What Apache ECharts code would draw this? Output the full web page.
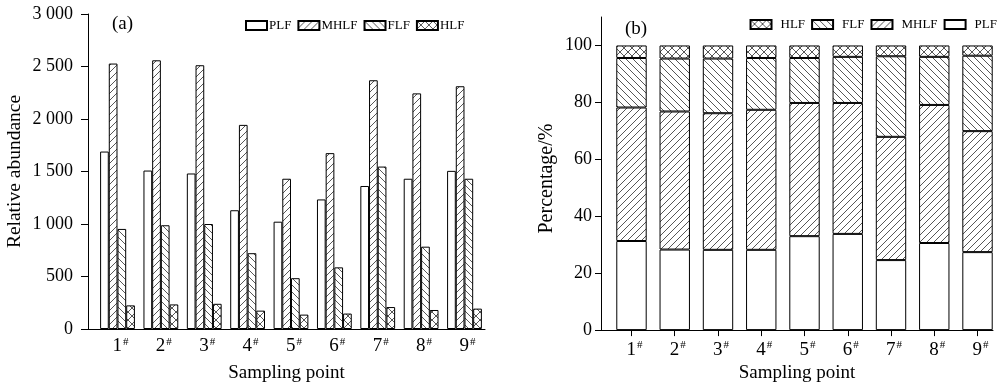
<!DOCTYPE html>
<html><head><meta charset="utf-8">
<script src="https://cdn.jsdelivr.net/npm/echarts@6/dist/echarts.min.js"></script>
<style>html,body{margin:0;padding:0;background:#fff}#c{width:1000px;height:388px}</style>
</head><body><div id="c"></div>
<script>
// ---------- data ----------
const categories = ['1','2','3','4','5','6','7','8','9'];
const seriesNames = ['PLF','MHLF','FLF','HLF'];
// (a) relative abundance
const absPLF  = [1690,1509,1481,1131,1022,1234,1362,1431,1506];
const absMHLF = [2528,2559,2512,1944,1431,1675,2369,2244,2312];
const absFLF  = [953,988,1000,722,484,587,1547,784,1431];
const absHLF  = [225,234,240,175,137,147,209,181,194];
// (b) percentage (segment heights)
const pctPLF  = [31.3,28.3,28.2,28.2,33.0,33.8,24.6,30.6,27.4];
const pctMHLF = [46.9,48.5,48.0,49.2,46.8,46.0,43.3,48.5,42.5];
const pctFLF  = [17.4,18.6,19.2,18.2,15.8,16.2,28.3,16.9,26.5];
const pctHLF  = [4.4,4.6,4.6,4.4,4.4,4.0,3.8,4.0,3.6];
// tick labels
const yTicksA = [0,500,1000,1500,2000,2500,3000];
const yTicksB = [0,20,40,60,80,100];
const legendOrderA = ['PLF','MHLF','FLF','HLF'];
const legendOrderB = ['HLF','FLF','MHLF','PLF'];

// ---------- styles ----------
const FONT = "'Liberation Serif','Times New Roman',serif";
function hatch(kind, p) {
  const c = document.createElement('canvas');
  c.width = p; c.height = p;
  const g = c.getContext('2d');
  g.fillStyle = '#fff'; g.fillRect(0, 0, p, p);
  g.strokeStyle = '#444'; g.lineWidth = 0.9;
  g.beginPath();
  if (kind === '/' || kind === 'x') {
    g.moveTo(0, p); g.lineTo(p, 0);
    g.moveTo(-1, 1); g.lineTo(1, -1);
    g.moveTo(p - 1, p + 1); g.lineTo(p + 1, p - 1);
  }
  if (kind === '\\' || kind === 'x') {
    g.moveTo(0, 0); g.lineTo(p, p);
    g.moveTo(p - 1, -1); g.lineTo(p + 1, 1);
    g.moveTo(-1, p - 1); g.lineTo(1, p + 1);
  }
  g.stroke();
  return { image: c, repeat: 'repeat' };
}
const fills = {
  PLF: '#ffffff',
  MHLF: hatch('/', 7),
  FLF: hatch('\\', 7),
  HLF: hatch('x', 8)
};
const absData = { PLF: absPLF, MHLF: absMHLF, FLF: absFLF, HLF: absHLF };
const pctData = { PLF: pctPLF, MHLF: pctMHLF, FLF: pctFLF, HLF: pctHLF };

const xPos = categories.map((c, i) => i + 1);
function catLabel(v) {
  const idx = Math.round(v) - 1;
  return '{p|}{n|' + categories[idx] + '}{s|#}';
}
const richX = {
  p: { width: 6 },
  n: { fontSize: 19, fontFamily: FONT, color: '#000' },
  s: { fontSize: 11, fontFamily: FONT, color: '#000', verticalAlign: 'top', padding: [0, 0, 6, 1] }
};
function thousands(v) { return String(v).replace(/\B(?=(\d{3})+(?!\d))/g, ' '); }

const series = [];
seriesNames.forEach(n => {
  series.push({
    name: n, type: 'bar', xAxisIndex: 0, yAxisIndex: 0,
    barWidth: 8.7, barGap: '0%',
    itemStyle: { color: fills[n], borderColor: '#000', borderWidth: 1 },
    emphasis: { disabled: true },
    data: absData[n].map((v, i) => [xPos[i], v])
  });
});
seriesNames.forEach(n => {
  series.push({
    name: n, type: 'bar', xAxisIndex: 1, yAxisIndex: 1, stack: 'pct',
    barWidth: 30.4,
    itemStyle: { color: fills[n], borderColor: '#000', borderWidth: 1 },
    emphasis: { disabled: true },
    encode: { x: 1, y: 0 },
    data: pctData[n].map((v, i) => [v, xPos[i]])
  });
});

const axisLineStyle = { show: true, onZero: false, lineStyle: { color: '#000', width: 1 } };
const option = {
  animation: false,
  backgroundColor: '#fff',
  title: [
    { text: '(a)', left: 112, top: 15, padding: 0, textStyle: { fontFamily: FONT, fontSize: 19, fontWeight: 'normal', color: '#000' } },
    { text: '(b)', left: 625, top: 20, padding: 0, textStyle: { fontFamily: FONT, fontSize: 19, fontWeight: 'normal', color: '#000' } }
  ],
  legend: [
    { data: legendOrderA, left: 245, top: 19, padding: 0, itemWidth: 21, itemHeight: 9, itemGap: 6,
      icon: 'rect', selectedMode: false,
      textStyle: { fontFamily: FONT, fontSize: 13, color: '#000', padding: [0, 0, 0, -3] } },
    { data: legendOrderB, right: 3, top: 18, padding: 0, itemWidth: 21, itemHeight: 9, itemGap: 6,
      icon: 'rect', selectedMode: false,
      textStyle: { fontFamily: FONT, fontSize: 13, color: '#000', padding: [0, 0, 0, 4] } }
  ],
  grid: [
    { left: 88, right: 515, top: 14, bottom: 54 },
    { left: 601, right: 7, top: 17, bottom: 51 }
  ],
  xAxis: [
    { gridIndex: 0, type: 'value', min: 0.32, max: 9.473,
      axisLine: axisLineStyle, axisTick: { show: false }, splitLine: { show: false },
      axisLabel: { customValues: xPos, margin: 8, formatter: catLabel, rich: richX },
      name: 'Sampling point', nameLocation: 'middle', nameGap: 35,
      nameTextStyle: { fontFamily: FONT, fontSize: 19, color: '#000' } },
    { gridIndex: 1, type: 'value', min: 0.295, max: 9.358,
      axisLine: axisLineStyle, splitLine: { show: false },
      axisTick: { show: true, customValues: xPos, length: 6, lineStyle: { color: '#000' } },
      axisLabel: { customValues: xPos, margin: 10, formatter: catLabel, rich: richX },
      name: 'Sampling point', nameLocation: 'middle', nameGap: 33,
      nameTextStyle: { fontFamily: FONT, fontSize: 19, color: '#000' } }
  ],
  yAxis: [
    { gridIndex: 0, type: 'value', min: 0, max: 3000, interval: 500,
      axisLine: axisLineStyle, splitLine: { show: false },
      axisTick: { show: true, customValues: yTicksA, length: 7, lineStyle: { color: '#000' } },
      axisLabel: { customValues: yTicksA, margin: 15, fontFamily: FONT, fontSize: 18, color: '#000', formatter: thousands },
      name: 'Relative abundance', nameLocation: 'middle', nameGap: 63,
      nameTextStyle: { fontFamily: FONT, fontSize: 19.5, color: '#000' } },
    { gridIndex: 1, type: 'value', min: 0, max: 110, interval: 20,
      axisLine: axisLineStyle, splitLine: { show: false },
      axisTick: { show: true, customValues: yTicksB, length: 6, lineStyle: { color: '#000' } },
      axisLabel: { customValues: yTicksB, margin: 9, fontFamily: FONT, fontSize: 18, color: '#000' },
      name: 'Percentage/%', nameLocation: 'middle', nameGap: 44,
      nameTextStyle: { fontFamily: FONT, fontSize: 20, color: '#000', padding: [0, 10, 0, 0] } }
  ],
  series: series
};
const chart = echarts.init(document.getElementById('c'), null, { renderer: 'canvas' });
chart.setOption(option);
</script>
</body></html>
